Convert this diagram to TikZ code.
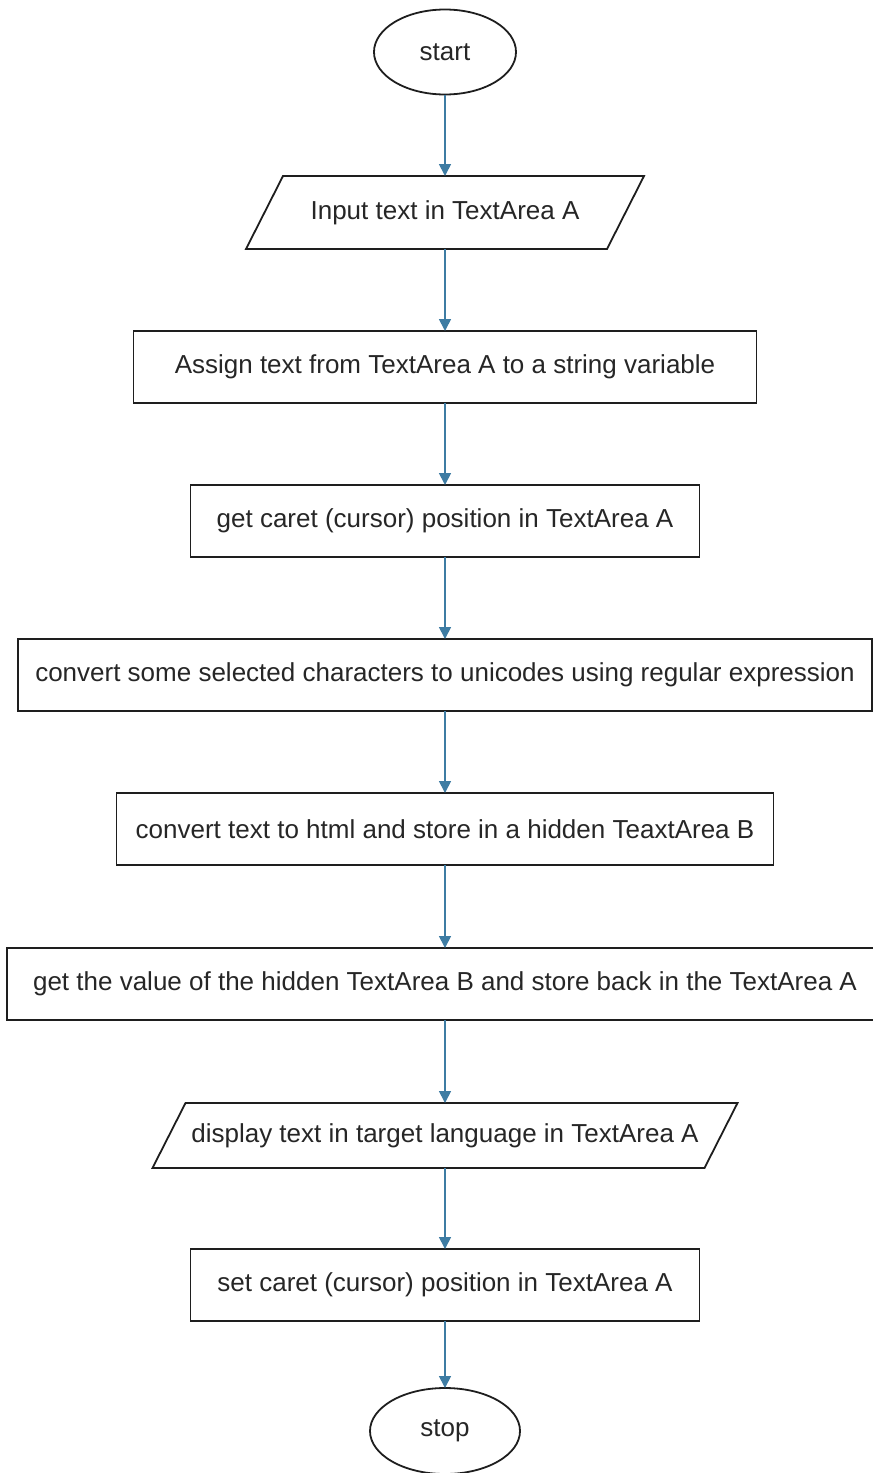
\documentclass[tikz,border=0pt]{standalone}
\usepackage{fontspec}
\setmainfont{Liberation Sans}
\usetikzlibrary{arrows.meta,shapes.geometric}
\definecolor{flowline}{HTML}{3E7CA3}
\definecolor{boxedge}{HTML}{1E1E1E}
\definecolor{labeltext}{HTML}{262626}
\tikzset{
  base/.style={inner sep=0pt, outer sep=0pt, text=labeltext,
    font=\fontsize{26}{30}\selectfont},
  terminal/.style={base, ellipse, draw=boxedge, line width=1.8pt},
  stepbox/.style={base, rectangle, draw=boxedge, line width=1.8pt, minimum height=72pt},
  iobox/.style={base, rectangle, draw=none},
  ioedge/.style={draw=boxedge, line width=1.8pt, line join=miter},
  flow/.style={draw=flowline, line width=1.7pt,
    -{Triangle[width=12pt,length=12pt]}},
}
\begin{document}
\begin{tikzpicture}[x=1pt, y=-1pt]
\useasboundingbox (0,0) rectangle (873,1473);

% terminals and process steps, all on one vertical axis
\node[terminal, minimum width=142pt, minimum height=85pt] (start) at (445,52) {start};
\node[iobox, minimum width=361pt, minimum height=73pt] (input) at (445,212.5) {Input text in TextArea A};
\node[stepbox, minimum width=623pt] (assign) at (445,367) {Assign text from TextArea A to a string variable};
\node[stepbox, minimum width=509pt] (getcaret) at (445,521) {get caret (cursor) position in TextArea A};
\node[stepbox, minimum width=854pt] (convert) at (445,675) {convert some selected characters to unicodes using regular expression};
\node[stepbox, minimum width=657pt] (html) at (445,829) {convert text to html and store in a hidden TeaxtArea B};
\node[stepbox, minimum width=876pt] (value) at (445,984) {get the value of the hidden TextArea B and store back in the TextArea A};
\node[iobox, minimum width=552pt, minimum height=65pt] (display) at (445,1135.5) {display text in target language in TextArea A};
\node[stepbox, minimum width=509pt] (setcaret) at (445,1285) {set caret (cursor) position in TextArea A};
\node[terminal, minimum width=150pt, minimum height=86pt] (stop) at (445,1431) {stop};

% input/output parallelograms around their labels
\draw[ioedge] ([xshift=18.5pt]input.north west) -- ([xshift=18.5pt]input.north east)
  -- ([xshift=-18.5pt]input.south east) -- ([xshift=-18.5pt]input.south west) -- cycle;
\draw[ioedge] ([xshift=16.5pt]display.north west) -- ([xshift=16.5pt]display.north east)
  -- ([xshift=-16.5pt]display.south east) -- ([xshift=-16.5pt]display.south west) -- cycle;

% connectors
\draw[flow] (start.south) -- (input.north);
\draw[flow] (input.south) -- (assign.north);
\draw[flow] (assign.south) -- (getcaret.north);
\draw[flow] (getcaret.south) -- (convert.north);
\draw[flow] (convert.south) -- (html.north);
\draw[flow] (html.south) -- (value.north);
\draw[flow] (value.south) -- (display.north);
\draw[flow] (display.south) -- (setcaret.north);
\draw[flow] (setcaret.south) -- (stop.north);
\end{tikzpicture}
\end{document}
